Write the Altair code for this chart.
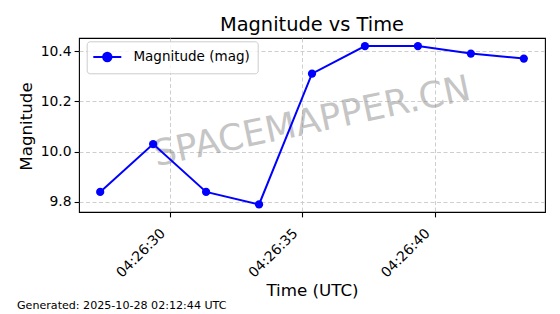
import altair as alt
import pandas as pd

# ---- data ----
times = [
    "2025-10-28T04:26:27.370Z", "2025-10-28T04:26:29.370Z", "2025-10-28T04:26:31.370Z",
    "2025-10-28T04:26:33.370Z", "2025-10-28T04:26:35.370Z", "2025-10-28T04:26:37.370Z",
    "2025-10-28T04:26:39.370Z", "2025-10-28T04:26:41.370Z", "2025-10-28T04:26:43.370Z",
]
magnitudes = [9.84, 10.03, 9.84, 9.79, 10.31, 10.42, 10.42, 10.39, 10.37]
series_name = "Magnitude (mag)"
y_ticks = [9.8, 10.0, 10.2, 10.4]
x_tick_seconds = [30, 35, 40]
title_text = "Magnitude vs Time"
footer_text = "Generated: 2025-10-28 02:12:44 UTC"
watermark_text = "SPACEMAPPER.CN"

df = pd.DataFrame({"time": times, "mag": magnitudes, "series": [series_name] * len(times)})

FONT = "DejaVu Sans"
W, H = 466, 174

def dt(sec, ms=0):
    return alt.DateTime(year=2025, month=10, date=28, hours=4, minutes=26,
                        seconds=sec, milliseconds=ms, utc=True)

x_enc = alt.X(
    "time:T",
    scale=alt.Scale(type="utc", domain=[dt(26, 570), dt(44, 170)], nice=False),
    axis=alt.Axis(
        values=[dt(s) for s in x_tick_seconds],
        labelExpr="utcFormat(datum.value, '%H:%M:%S')",
        labelAngle=315, labelAlign="right", labelBaseline="top",
        labelOffset=-12, labelPadding=9,
        title="Time (UTC)", titleY=83, titleBaseline="alphabetic",
    ),
)
y_enc = alt.Y(
    "mag:Q",
    scale=alt.Scale(domain=[9.76, 10.452], nice=False, zero=False),
    axis=alt.Axis(
        values=y_ticks, format=".1f", labelPadding=3,
        title="Magnitude", titleX=-48, titleY=88, titleAngle=270,
        titleAlign="center", titleBaseline="alphabetic",
    ),
)
color_enc = alt.Color(
    "series:N",
    scale=alt.Scale(domain=[series_name], range=["#0000ff"]),
    legend=alt.Legend(title=None),
)

base = alt.Chart(df)

watermark = alt.Chart(pd.DataFrame({"t": [watermark_text]})).mark_text(
    font=FONT, fontSize=36, angle=348, align="center", baseline="middle",
    color="#808080", opacity=0.45,
).encode(text="t:N", x=alt.value(W / 2), y=alt.value(H / 2 - 3))

line = base.mark_line(strokeWidth=2).encode(x=x_enc, y=y_enc, color=color_enc)
points = base.mark_point(filled=True, size=68, opacity=1).encode(x=x_enc, y=y_enc, color=color_enc)

footer = alt.Chart(pd.DataFrame({"t": [footer_text]})).mark_text(
    font=FONT, fontSize=11.1, align="left", baseline="alphabetic", color="black",
).encode(text="t:N", x=alt.value(17 - 79), y=alt.value(309 - 38))

chart = alt.layer(watermark, line, points, footer).properties(
    width=W, height=H,
    title=alt.TitleParams(title_text, font=FONT, fontSize=19.4, fontWeight="normal",
                          anchor="middle", baseline="alphabetic", offset=-12, color="black"),
    autosize=alt.AutoSizeParams(type="none"),
    padding={"left": 79, "top": 38, "right": 15, "bottom": 102},
).configure_view(
    stroke="black", strokeWidth=1.1,
).configure_axis(
    labelFont=FONT, titleFont=FONT, labelFontSize=13.9, titleFontSize=16.7,
    titleFontWeight="normal", labelColor="black", titleColor="black",
    domain=False, tickColor="black", tickSize=4.9, tickWidth=1.1,
    grid=True, gridColor="#c8c8c8", gridDash=[4, 2.5], gridWidth=0.9,
).configure_legend(
    orient="none", legendX=7.7, legendY=3.3,
    fillColor="rgba(255,255,255,0.8)", strokeColor="#cccccc", cornerRadius=3,
    padding=7.7, labelFont=FONT, labelFontSize=13.5, labelColor="black",
    symbolType="M-1.3,0L2.7,0M1.3,0A0.6,0.6 0 1,1 0.1,0A0.6,0.6 0 1,1 1.3,0Z",
    symbolSize=196, symbolStrokeWidth=2, symbolFillColor="#0000ff",
    symbolStrokeColor="#0000ff", labelOffset=23,
)

chart.save("out.html", embed_options={"renderer": "svg", "actions": False})
